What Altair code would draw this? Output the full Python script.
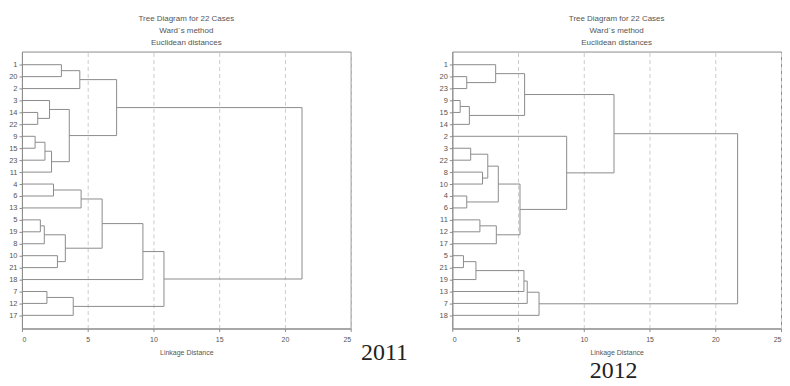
import altair as alt
import pandas as pd

# ---- 2011 panel ----
leaves_2011 = ["1", "20", "2", "3", "14", "22", "9", "15", "23", "11", "4", "6",
               "13", "5", "19", "8", "10", "21", "18", "7", "12", "17"]
merge_a_2011 = ["1", "m0", "14", "3", "9", "m4", "m5", "m3", "m1", "4", "m9",
                "5", "m11", "10", "m12", "m10", "m15", "7", "m17", "m16", "m8"]
merge_b_2011 = ["20", "2", "22", "m2", "15", "23", "11", "m6", "m7", "6", "13",
                "19", "8", "21", "m13", "m14", "18", "12", "17", "m18", "m19"]
merge_h_2011 = [3.0, 4.4, 1.2, 2.1, 1.0, 1.75, 2.25, 3.6, 7.2, 2.4, 4.5,
                1.4, 1.7, 2.7, 3.3, 6.1, 9.2, 1.9, 3.9, 10.8, 21.3]

# ---- 2012 panel ----
leaves_2012 = ["1", "20", "23", "9", "15", "14", "2", "3", "22", "8", "10", "4",
               "6", "11", "12", "17", "5", "21", "19", "13", "7", "18"]
merge_a_2012 = ["20", "1", "9", "m2", "m1", "3", "8", "m5", "4", "m7", "11",
                "m10", "m9", "2", "m4", "5", "m15", "m16", "m17", "m18", "m14"]
merge_b_2012 = ["23", "m0", "15", "14", "m3", "22", "10", "m6", "6", "m8", "12",
                "17", "m11", "m12", "m13", "21", "19", "13", "7", "18", "m19"]
merge_h_2012 = [1.1, 3.3, 0.6, 1.3, 5.5, 1.4, 2.3, 2.7, 1.1, 3.5, 2.1,
                3.35, 5.15, 8.7, 12.3, 0.85, 1.8, 5.45, 5.7, 6.6, 21.7]

title_lines = ["Tree Diagram for 22 Cases", "Ward`s method", "Euclidean distances"]
x_ticks = [0, 5, 10, 15, 20, 25]
LINE = "#8c8c8c"
TXT = "#555555"
FONT = "Liberation Sans"


def segments(leaves, A, B, H):
    ypos = {lab: float(i) for i, lab in enumerate(leaves)}
    height = {lab: 0.0 for lab in leaves}
    parent = {}
    rows = []
    for k, (a, b, h) in enumerate(zip(A, B, H)):
        m = f"m{k}"
        ypos[m] = (ypos[a] + ypos[b]) / 2
        height[m] = h
        parent[a] = m
        parent[b] = m
        rows.append(dict(x=h, x2=h, y=ypos[a], y2=ypos[b]))
    for node, p in parent.items():
        rows.append(dict(x=height[node], x2=height[p], y=ypos[node], y2=ypos[node]))
    return pd.DataFrame(rows)


def panel(leaves, A, B, H, year, yx, yy):
    df = segments(leaves, A, B, H)
    label_expr = "[" + ",".join(f"'{l}'" for l in leaves) + "][datum.value]"
    x = alt.X("x:Q", scale=alt.Scale(domain=[0, 25], nice=False, zero=False),
              axis=alt.Axis(values=x_ticks, title="Linkage Distance", grid=True,
                            gridDash=[4, 3], gridColor="#cccccc", format="d",
                            labelFont=FONT, labelFontSize=7, labelColor=TXT,
                            titleFont=FONT, titleFontSize=7, titleFontWeight=400,
                            titleColor=TXT, titlePadding=6, labelPadding=4, tickSize=3,
                            tickColor=LINE, domainColor=LINE))
    y = alt.Y("y:Q", scale=alt.Scale(domain=[-1.1, 22.1], reverse=True, nice=False, zero=False),
              axis=alt.Axis(values=list(range(len(leaves))), labelExpr=label_expr,
                            title=None, grid=False, labelPadding=2, tickSize=3,
                            labelFont=FONT, labelFontSize=7.5, labelColor=TXT,
                            tickColor=LINE, domainColor=LINE))
    lines = alt.Chart(df).mark_rule(color=LINE, strokeWidth=1).encode(
        x=x, x2="x2:Q", y=y, y2="y2:Q")
    yr = alt.Chart(pd.DataFrame({"t": [year]})).mark_text(
        font="Liberation Serif", fontSize=24, color="#222222", align="center",
        baseline="middle").encode(text="t:N", x=alt.value(yx), y=alt.value(yy))
    return alt.layer(lines, yr).properties(
        width=330, height=278,
        title=alt.TitleParams(text=title_lines, anchor="middle", fontSize=8,
                              lineHeight=12, fontWeight="normal", color=TXT,
                              font=FONT, baseline="bottom", offset=-3))


left = panel(leaves_2011, merge_a_2011, merge_b_2011, merge_h_2011, "2011", 364, 303)
right = panel(leaves_2012, merge_a_2012, merge_b_2012, merge_h_2012, "2012", 162, 321)

chart = alt.hconcat(left, right, spacing=102, bounds="flush").properties(
    padding={"left": 0, "top": 5, "right": 0, "bottom": 0},
    background="white",
).configure_view(
    stroke=LINE, strokeWidth=1
)

chart.save("out.html", embed_options={"renderer": "svg", "actions": False})
